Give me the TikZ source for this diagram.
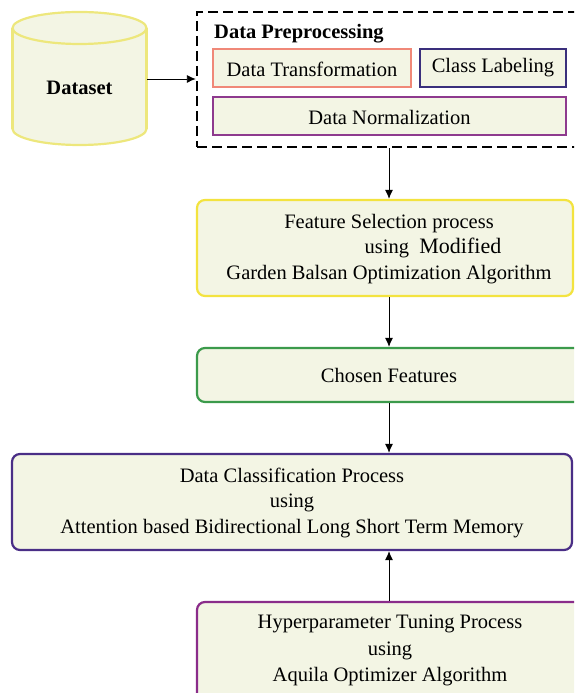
\documentclass[tikz,border=0pt]{standalone}
\usepackage{fontspec}
\setmainfont{Liberation Serif}
\usetikzlibrary{arrows.meta}
\definecolor{cream}{HTML}{F3F5E4}
\definecolor{cylcol}{HTML}{EDE77C}
\definecolor{fscol}{HTML}{F3E33F}
\definecolor{chcol}{HTML}{3B9A4B}
\definecolor{dccol}{HTML}{4A2E86}
\definecolor{hpcol}{HTML}{8A2C8A}
\definecolor{dtcol}{HTML}{F08878}
\definecolor{clcol}{HTML}{3A2F7C}
\definecolor{dncol}{HTML}{8E3A8E}
\tikzset{
  txt/.style={font=\fontsize{20.5}{25.5}\selectfont, align=center, inner sep=0pt},
  boldtxt/.style={font=\fontsize{20.5}{25.5}\selectfont\bfseries, inner sep=0pt},
  sqbox/.style={draw, fill=cream, line width=2.2pt, inner sep=0pt},
  rbox/.style={draw, fill=cream, line width=2.2pt, rounded corners=8pt, inner sep=0pt},
  arr/.style={line width=0.9pt, -{Latex[length=9pt,width=8pt]}},
  dashbox/.style={draw, line width=2.4pt, dash pattern=on 10pt off 5pt, inner sep=0pt}
}
\begin{document}
\begin{tikzpicture}[x=1pt,y=1pt]
\useasboundingbox (0,0) rectangle (574,693);
\clip (0,0) rectangle (574,693);
% cylinder
\filldraw[draw=cylcol, fill=cream, line width=2.2pt] (79.5,564) ellipse [x radius=67, y radius=16];
\fill[cream] (12.5,665) rectangle (146.5,564);
\draw[cylcol, line width=2.2pt] (12.5,665) -- (12.5,564) (146.5,665) -- (146.5,564);
\filldraw[draw=cylcol, fill=cream, line width=2.2pt] (79.5,665) ellipse [x radius=67, y radius=16];
\node[boldtxt] (ds) at (79.5,605) {Dataset};
\coordinate (dsE) at (147,614);
% preprocessing
\node[dashbox, minimum width=393pt, minimum height=135pt] (pre) at (393.5,613.5) {};
\node[boldtxt, anchor=west] (pret) at (214,659) {Data Preprocessing};
\node[sqbox, draw=dtcol, minimum width=198pt, minimum height=38pt] (dt) at (312,625) {};
\node[txt] (dtt) at (312,624) {Data Transformation};
\node[sqbox, draw=clcol, minimum width=146pt, minimum height=38pt] (cl) at (493,625) {};
\node[txt] (clt) at (493,625) {Class Labeling};
\node[sqbox, draw=dncol, minimum width=353pt, minimum height=38pt] (dn) at (389.5,577) {};
\node[txt] (dnt) at (389.5,576) {Data Normalization};
% feature selection
\node[rbox, draw=fscol, minimum width=376pt, minimum height=96pt] (fs) at (385,445) {};
\node[txt] (fst) at (389,444) {Feature Selection process\\ \hspace*{88pt}using\ \ {\fontsize{22}{25.5}\selectfont Modified}\\ Garden Balsan Optimization Algorithm};
% chosen
\node[rbox, draw=chcol, minimum width=393pt, minimum height=54pt] (ch) at (393.5,318) {};
\node[txt] (cht) at (389,317.5) {Chosen Features};
% classification
\node[rbox, draw=dccol, minimum width=560pt, minimum height=96pt] (dc) at (292,191) {};
\node[txt] (dct) at (292,190.5) {Data Classification Process\\ using\\ Attention based Bidirectional Long Short Term Memory};
% hyperparameter
\node[rbox, draw=hpcol, minimum width=393pt, minimum height=108pt] (hp) at (393.5,37) {};
\node[txt, font=\fontsize{20.5}{26.5}\selectfont] (hpt) at (390,42.5) {Hyperparameter Tuning Process\\ using\\ Aquila Optimizer Algorithm};
% arrows
\draw[arr] (dsE) -- (pre.west |- dsE);
\draw[arr] (cht |- pre.south) -- (cht |- fs.north);
\draw[arr] (cht |- fs.south) -- (cht |- ch.north);
\draw[arr] (cht |- ch.south) -- (cht |- dc.north);
\draw[arr] (cht |- hp.north) -- (cht |- dc.south);
\end{tikzpicture}
\end{document}
